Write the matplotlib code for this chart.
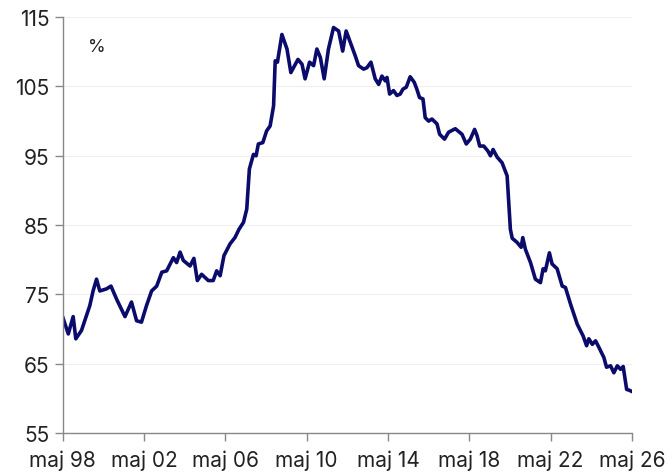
import matplotlib.pyplot as plt

# tid i decimala år, värden i procent
years = [1998.33, 1998.6, 1998.84, 1998.97, 1999.25, 1999.66, 1999.82, 1999.99,
         2000.15, 2000.48, 2000.7, 2000.98, 2001.39, 2001.71, 2001.96, 2002.2,
         2002.45, 2002.7, 2002.95, 2003.2, 2003.44, 2003.77, 2003.93, 2004.1,
         2004.26, 2004.59, 2004.78, 2004.95, 2005.16, 2005.49, 2005.73, 2005.9,
         2006.07, 2006.26, 2006.56, 2006.8, 2007.0, 2007.22, 2007.38, 2007.51,
         2007.71, 2007.84, 2007.95, 2008.17, 2008.36, 2008.53, 2008.7, 2008.78,
         2008.89, 2009.11, 2009.36, 2009.55, 2009.9, 2010.1, 2010.25, 2010.47,
         2010.67, 2010.83, 2011.0, 2011.19, 2011.4, 2011.65, 2011.9, 2012.1,
         2012.27, 2012.47, 2012.72, 2012.88, 2013.13, 2013.29, 2013.49, 2013.7,
         2013.87, 2014.03, 2014.2, 2014.28, 2014.41, 2014.6, 2014.77, 2014.93,
         2015.06, 2015.23, 2015.42, 2015.62, 2015.75, 2015.88, 2016.05, 2016.16,
         2016.33, 2016.49, 2016.74, 2016.87, 2017.11, 2017.31, 2017.64, 2017.97,
         2018.18, 2018.38, 2018.59, 2018.71, 2018.84, 2019.04, 2019.24, 2019.37,
         2019.5, 2019.7, 2019.94, 2020.19, 2020.35, 2020.44, 2020.68, 2020.88,
         2020.96, 2021.09, 2021.34, 2021.58, 2021.83, 2021.96, 2022.07, 2022.27,
         2022.4, 2022.65, 2022.9, 2023.06, 2023.31, 2023.64, 2023.93, 2024.1,
         2024.21, 2024.38, 2024.54, 2024.7, 2024.95, 2025.08, 2025.28, 2025.44,
         2025.61, 2025.77, 2025.9, 2026.07, 2026.18, 2026.33]
values = [71.7, 69.3, 71.8, 68.6, 69.8, 73.4, 75.5, 77.2,
          75.5, 75.8, 76.2, 74.3, 71.8, 73.9, 71.2, 71.0,
          73.4, 75.5, 76.2, 78.2, 78.4, 80.3, 79.6, 81.1,
          79.9, 79.1, 80.2, 77.0, 77.9, 77.0, 77.0, 78.4,
          77.7, 80.6, 82.3, 83.2, 84.4, 85.4, 87.3, 93.1,
          95.2, 95.0, 96.7, 96.9, 98.6, 99.3, 102.2, 108.7,
          108.5, 112.5, 110.4, 107.0, 108.9, 108.2, 106.1, 108.5,
          108.0, 110.4, 109.2, 106.1, 110.4, 113.5, 113.0, 110.1,
          113.0, 111.4, 109.4, 108.0, 107.5, 107.7, 108.5, 106.1,
          105.3, 106.5, 105.8, 106.3, 103.9, 104.4, 103.7, 103.9,
          104.6, 104.9, 106.4, 105.6, 104.6, 103.4, 103.2, 100.5,
          100.0, 100.3, 99.6, 98.1, 97.4, 98.4, 98.9, 98.1,
          96.7, 97.4, 98.8, 97.9, 96.4, 96.4, 95.7, 95.0,
          95.9, 94.8, 94.0, 92.1, 84.4, 83.1, 82.5, 81.8,
          83.2, 81.5, 79.6, 77.2, 76.7, 78.7, 78.4, 81.0,
          79.4, 78.7, 76.2, 76.0, 73.6, 70.7, 69.0, 67.6,
          68.6, 67.8, 68.3, 67.4, 65.9, 64.5, 64.7, 63.7,
          64.7, 64.2, 64.6, 61.3, 61.2, 61.0]

tick_pos = [1998.33, 2002.33, 2006.33, 2010.33, 2014.33, 2018.33, 2022.33, 2026.33]
tick_labels = ['maj 98', 'maj 02', 'maj 06', 'maj 10', 'maj 14', 'maj 18', 'maj 22', 'maj 26']
y_ticks = [55, 65, 75, 85, 95, 105, 115]

plt.rcParams['font.family'] = ['Inter', 'DejaVu Sans']

fig = plt.figure(figsize=(6.68, 4.77), dpi=100)
ax = fig.add_axes([0.094, 0.090, 0.852, 0.872])

ax.plot(years, values, color='#0b0b6b', linewidth=2.6)

ax.set_xlim(tick_pos[0], tick_pos[-1])
ax.set_ylim(55, 115)
ax.set_xticks(tick_pos)
ax.set_xticklabels(tick_labels)
ax.set_yticks(y_ticks)

ax.grid(axis='y', color='#efefef', linewidth=0.8)
ax.set_axisbelow(True)

for s in ['top', 'right']:
    ax.spines[s].set_visible(False)
for s in ['left', 'bottom']:
    ax.spines[s].set_color('#888888')
    ax.spines[s].set_linewidth(1.0)

ax.tick_params(axis='both', colors='#888888', labelcolor='#222222',
               labelsize=15, length=6, width=1.0)
ax.tick_params(axis='x', pad=6)

ax.text(0.045, 0.93, '%', transform=ax.transAxes, fontsize=13,
        color='#222222', va='center')

fig.savefig('out.png', dpi=100)
